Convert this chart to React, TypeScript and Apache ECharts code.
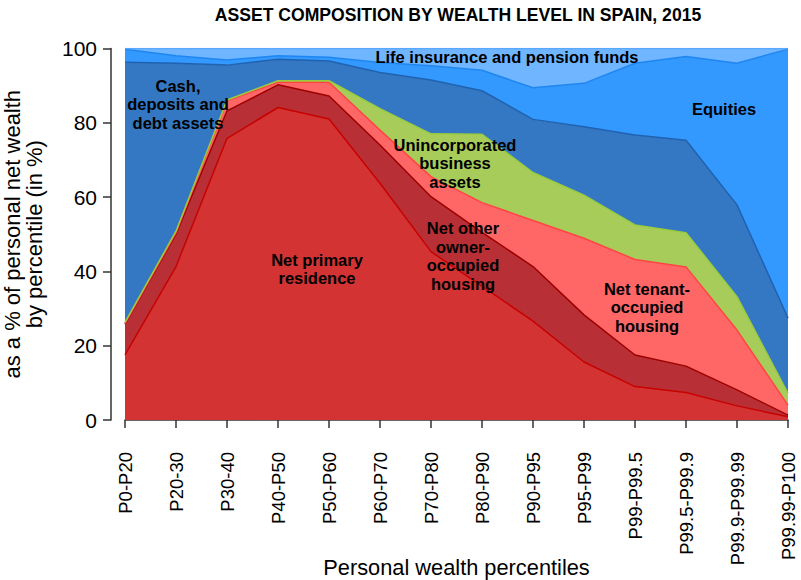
import React, { useEffect, useRef } from "react";
import * as echarts from "echarts";

const categories = [
  "P0-P20", "P20-30", "P30-40", "P40-P50", "P50-P60", "P60-P70", "P70-P80",
  "P80-P90", "P90-P95", "P95-P99", "P99-P99.5", "P99.5-P99.9", "P99.9-P99.99", "P99.99-P100",
];

const netPrimaryResidence = [17.5, 41.3, 75.8, 84.1, 81.0, 63.7, 45.3, 36.0, 26.6, 15.6, 9.0, 7.4, 3.8, 0.9];
const netOtherOwnerOccupied = [8.3, 8.7, 7.4, 6.1, 6.2, 10.3, 14.8, 14.5, 14.7, 12.7, 8.5, 7.1, 4.3, 0.4];
const netTenantOccupied = [0.2, 0.4, 2.7, 0.7, 3.7, 4.0, 5.4, 8.0, 12.4, 20.6, 25.7, 26.7, 16.1, 2.7];
const unincorporatedBusiness = [0.3, 0.4, 0.2, 0.4, 0.4, 5.8, 11.5, 18.4, 12.9, 11.6, 9.3, 9.2, 9.0, 3.2];
const cashDeposits = [70.0, 45.2, 9.4, 5.8, 5.3, 9.7, 14.5, 11.7, 14.3, 18.4, 24.2, 24.9, 24.7, 20.2];
const equities = [3.5, 2.0, 1.4, 0.9, 1.0, 2.7, 3.8, 5.5, 8.5, 11.7, 19.3, 22.5, 38.1, 72.4];
const lifeInsurance = [0.2, 2.0, 3.1, 2.0, 2.4, 3.8, 4.7, 5.9, 10.6, 9.4, 4.0, 2.2, 4.0, 0.2];

const yTicks = [0, 20, 40, 60, 80, 100];

const FONT = "'Liberation Sans', Arial, Helvetica, sans-serif";

export default function App() {
  const ref = useRef<HTMLDivElement>(null);

  useEffect(() => {
    if (!ref.current) return;
    const chart = echarts.init(ref.current, null, { renderer: "svg" });

    const mk = (name: string, data: number[], fill: string, line: string) => ({
      name,
      type: "line",
      stack: "total",
      data,
      symbol: "none",
      smooth: false,
      lineStyle: { color: line, width: 1.5 },
      itemStyle: { color: fill },
      areaStyle: { color: fill, opacity: 1 },
      emphasis: { disabled: true },
    });

    const txt = (x: number, y: number, text: string) => ({
      type: "text",
      x,
      y,
      z: 100,
      style: {
        text,
        fill: "#000",
        fontFamily: FONT,
        fontSize: 16.5,
        fontWeight: "bold",
        align: "center",
        verticalAlign: "middle",
        lineHeight: 18.5,
      },
    });

    const option: any = {
      animation: false,
      title: {
        text: "ASSET COMPOSITION BY WEALTH LEVEL IN SPAIN, 2015",
        left: 453,
        textAlign: "center",
        top: 1,
        textStyle: { fontFamily: FONT, fontSize: 17.6, fontWeight: "bold", color: "#000" },
      },
      grid: { left: 125, right: 13, top: 48.4, bottom: 160, containLabel: false, outerBoundsMode: "none" },
      xAxis: {
        type: "category",
        data: categories,
        boundaryGap: false,
        offset: 14,
        name: "Personal wealth percentiles",
        nameLocation: "middle",
        nameGap: 122,
        nameMoveOverlap: false,
        nameTextStyle: { fontFamily: FONT, fontSize: 21.8, color: "#000" },
        axisLine: { show: true, lineStyle: { color: "#333", width: 1.5 } },
        axisTick: { show: true, alignWithLabel: true, length: 8, lineStyle: { color: "#333", width: 1.5 } },
        axisLabel: { rotate: 90, margin: 18, fontFamily: FONT, fontSize: 18.5, color: "#000", interval: 0 },
        splitLine: { show: false },
      },
      yAxis: {
        type: "value",
        min: yTicks[0],
        max: yTicks[yTicks.length - 1],
        interval: 20,
        offset: 14,
        name: "as a % of personal net wealth\nby percentile (in %)",
        nameLocation: "middle",
        nameRotate: 90,
        nameGap: 66,
        nameMoveOverlap: false,
        nameTextStyle: { fontFamily: FONT, fontSize: 22, color: "#000", lineHeight: 22 },
        axisLine: { show: true, lineStyle: { color: "#333", width: 1.5 } },
        axisTick: { show: true, length: 8, lineStyle: { color: "#333", width: 1.5 } },
        axisLabel: { margin: 14, fontFamily: FONT, fontSize: 21, color: "#000" },
        splitLine: { show: false },
      },
      series: [
        mk("Net primary residence", netPrimaryResidence, "#d33333", "#c80000"),
        mk("Net other owner-occupied housing", netOtherOwnerOccupied, "#b83035", "#9e0000"),
        mk("Net tenant-occupied housing", netTenantOccupied, "#ff6666", "#ff4444"),
        mk("Unincorporated business assets", unincorporatedBusiness, "#a8cc5a", "#9acb3c"),
        mk("Cash, deposits and debt assets", cashDeposits, "#3478c4", "#1f62b0"),
        mk("Equities", equities, "#3399ff", "#1f86f0"),
        mk("Life insurance and pension funds", lifeInsurance, "#70b5ff", "#59a8ff"),
      ],
      graphic: [
        txt(178, 104, "Cash,\ndeposits and\ndebt assets"),
        txt(507, 57, "Life insurance and pension funds"),
        txt(724, 109, "Equities"),
        txt(455, 163, "Unincorporated\nbusiness\nassets"),
        txt(317, 269, "Net primary\nresidence"),
        txt(463, 256, "Net other\nowner-\noccupied\nhousing"),
        txt(647, 307, "Net tenant-\noccupied\nhousing"),
      ],
    };

    chart.setOption(option);
    return () => chart.dispose();
  }, []);

  return (
    <div
      ref={ref}
      style={{ position: "fixed", left: 0, top: 0, width: 801, height: 580, background: "#fff" }}
    />
  );
}
